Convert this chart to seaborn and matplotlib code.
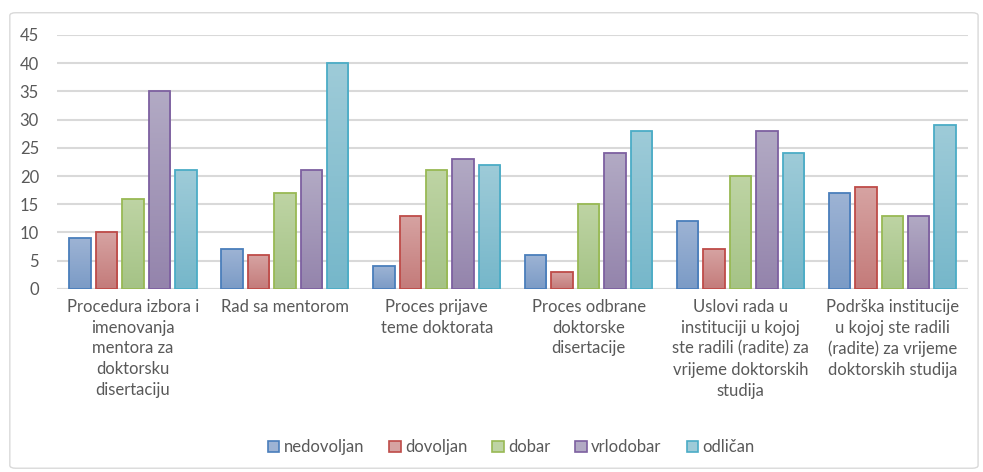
import numpy as np
import pandas as pd
import matplotlib
matplotlib.use("Agg")
import matplotlib.pyplot as plt
import seaborn as sns
from matplotlib.colors import LinearSegmentedColormap
from matplotlib.patches import FancyBboxPatch, Patch

# Data
categories = [
    "Procedura izbora i\nimenovanja\nmentora za\ndoktorsku\ndisertaciju",
    "Rad sa mentorom",
    "Proces prijave\nteme doktorata",
    "Proces odbrane\ndoktorske\ndisertacije",
    "Uslovi rada u\ninstituciji u kojoj\nste radili (radite) za\nvrijeme doktorskih\nstudija",
    "Podrška institucije\nu kojoj ste radili\n(radite) za vrijeme\ndoktorskih studija",
]
grades = ["nedovoljan", "dovoljan", "dobar", "vrlodobar", "odličan"]
nedovoljan = [9, 7, 4, 6, 12, 17]
dovoljan = [10, 6, 13, 3, 7, 18]
dobar = [16, 17, 21, 15, 20, 13]
vrlodobar = [35, 21, 23, 24, 28, 13]
odlican = [21, 40, 22, 28, 24, 29]
yticks = list(range(0, 50, 5))

# colours: (top, bottom, edge)
colors = {
    "nedovoljan": ("#9DB3D4", "#7B9BC6", "#4A7EBB"),
    "dovoljan": ("#D6A3A2", "#C47B7A", "#BE4B48"),
    "dobar": ("#BED4A4", "#A5C386", "#98B954"),
    "vrlodobar": ("#B2AAC4", "#9484AC", "#7D60A0"),
    "odličan": ("#9ECBD8", "#76B7CA", "#4BACC6"),
}

df = pd.DataFrame({"kategorija": categories, "nedovoljan": nedovoljan, "dovoljan": dovoljan,
                   "dobar": dobar, "vrlodobar": vrlodobar, "odličan": odlican})
long = df.melt(id_vars="kategorija", var_name="ocjena", value_name="broj")

sns.set_style("white")
plt.rcParams["font.family"] = ["Lato", "DejaVu Sans"]

fig = plt.figure(figsize=(9.83, 4.72), dpi=100)
ax = fig.add_axes([0.058, 0.388, 0.927, 0.538])

# outer chart border
border = FancyBboxPatch((0.010, 0.008), 0.985, 0.965, boxstyle="round,pad=0,rounding_size=0.006",
                        transform=fig.transFigure, fill=False, edgecolor="#D9D9D9", linewidth=1.0)
fig.patches.append(border)

palette = {g: colors[g][1] for g in grades}
sns.barplot(data=long, x="kategorija", y="broj", hue="ocjena", hue_order=grades,
            order=categories, palette=palette, width=0.87, gap=0.19, ax=ax,
            legend=False, zorder=3)

# gradient fill + edges
for cont, g in zip(ax.containers, grades):
    top, bottom, edge = colors[g]
    cmap = LinearSegmentedColormap.from_list(g, [bottom, top])
    for bar in cont:
        bar.set_edgecolor(edge)
        bar.set_linewidth(1.3)
        x0, y0 = bar.get_x(), bar.get_y()
        w, h = bar.get_width(), bar.get_height()
        grad = np.linspace(0, 1, 100).reshape(-1, 1)
        im = ax.imshow(grad, extent=[x0, x0 + w, y0, y0 + h], origin="lower",
                       cmap=cmap, aspect="auto", zorder=3.5)
        im.set_clip_path(bar)
        bar.set_facecolor("none")
        bar.set_zorder(4)

ax.set_xlim(-0.5, len(categories) - 0.5)
ax.set_ylim(0, 45)
ax.set_yticks(yticks)
ax.yaxis.grid(True, color="#D9D9D9", linewidth=1.5, zorder=0)
ax.set_axisbelow(True)
for s in ["top", "right", "left", "bottom"]:
    ax.spines[s].set_visible(False)
ax.axhline(0, color="#D9D9D9", linewidth=1.5, zorder=2)
ax.set_xlabel("")
ax.set_ylabel("")
ax.tick_params(axis="y", labelsize=12, colors="#595959", length=0, pad=13)
ax.tick_params(axis="x", labelsize=12, colors="#595959", length=0, pad=7)
for lbl in ax.get_xticklabels():
    lbl.set_linespacing(1.38)
    lbl.set_verticalalignment("top")

handles = [Patch(facecolor=colors[g][0], edgecolor=colors[g][2], linewidth=1.2, label=g) for g in grades]
fig.legend(handles=handles, loc="center", bbox_to_anchor=(0.52, 0.052), ncol=5, frameon=False,
           fontsize=12, handlelength=0.7, handleheight=0.7, handletextpad=0.25,
           columnspacing=1.5, labelcolor="#595959")

fig.savefig("out.png", dpi=100)
